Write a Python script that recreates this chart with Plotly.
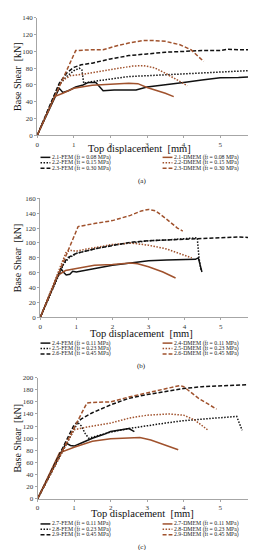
import plotly.graph_objects as go

W, H = 256, 550
BLACK = "#111111"
BROWN = "#a0522d"
SERIF = "Liberation Serif, Times New Roman, serif"

# ---------------- data ----------------
# panel (a)
fem21_x = [0, 0.6, 0.7, 0.85, 1.05, 1.25, 1.4, 1.6, 1.8, 2.1, 2.5, 2.7, 3.0, 3.5, 4.0, 4.5, 5.0, 5.5, 6.0]
fem21_y = [0, 56, 51, 53, 57.5, 60, 63, 63, 53, 54, 54, 54, 57.5, 60, 63, 66, 68.5, 69, 70]
dmem21_x = [0, 0.47, 0.7, 1.0, 1.5, 2.0, 2.5, 2.75, 3.0, 3.5, 3.73]
dmem21_y = [0, 46, 50, 56, 59.5, 61, 62, 61.5, 57, 50, 46]
fem22_x = [0, 0.6, 0.8, 1.0, 1.15, 1.22, 1.27, 1.5, 2.0, 2.5, 3.0, 3.5, 4.0, 4.5, 5.0, 5.5, 5.75, 6.0]
fem22_y = [0, 60, 70, 77, 80, 78, 62, 64, 67, 70, 71, 72, 73.5, 74, 75, 76, 77, 70]
dmem22_x = [0, 0.65, 0.9, 1.3, 1.7, 2.2, 2.6, 2.9, 3.2, 3.5, 3.8, 4.1]
dmem22_y = [0, 64, 71, 73, 76, 80, 82.5, 83, 80.5, 74, 66, 59]
fem23_x = [0, 0.6, 0.8, 1.0, 1.2, 1.5, 2.0, 2.5, 3.0, 3.5, 4.0, 4.5, 5.0, 5.2, 5.5, 6.0]
fem23_y = [0, 62, 74, 81, 84, 86, 91, 95, 97, 99, 100, 101, 101, 102.5, 102, 102]
dmem23_x = [0, 1.05, 1.5, 1.8, 2.2, 2.5, 2.9, 3.2, 3.5, 3.9, 4.2, 4.55]
dmem23_y = [0, 101, 102, 102, 107, 110, 113, 113, 112, 108, 102, 88]

# panel (b)
fem24_x = [0, 0.57, 0.64, 0.72, 0.82, 0.9, 1.0, 1.2, 1.5, 2.0, 2.5, 3.0, 3.5, 4.0, 4.3, 4.38, 4.48]
fem24_y = [0, 66, 61, 57, 58, 62, 61, 63, 66, 70, 73, 76, 77, 78, 78, 80, 61]
dmem24_x = [0, 0.5, 0.7, 1.0, 1.5, 2.0, 2.5, 2.7, 3.0, 3.4, 3.75]
dmem24_y = [0, 57, 63, 66, 70, 71, 73, 72, 68, 61, 53]
fem25_x = [0, 0.65, 0.8, 1.0, 1.5, 2.0, 2.5, 3.0, 3.5, 4.0, 4.35, 4.4, 4.45]
fem25_y = [0, 72, 80, 86, 92, 97, 100, 103, 104, 106, 107, 80, 64]
dmem25_x = [0, 0.72, 0.85, 1.0, 1.3, 2.0, 2.5, 3.0, 3.5, 4.0, 4.2]
dmem25_y = [0, 88, 90, 89, 92, 98, 100, 97, 92, 84, 80]
fem26_x = [0, 0.6, 0.75, 1.0, 1.5, 2.0, 2.5, 3.0, 3.5, 4.0, 4.5, 5.0, 5.5, 6.0]
fem26_y = [0, 68, 80, 86, 92, 97, 101, 103, 104, 105, 106, 107, 108, 107]
dmem26_x = [0, 1.05, 1.5, 2.0, 2.5, 2.8, 3.0, 3.2, 3.5, 3.8, 3.95]
dmem26_y = [0, 122, 126, 130, 137, 143, 145, 143, 132, 120, 116]

# panel (c)
fem27_x = [0, 0.78, 0.9, 1.0, 1.2, 1.5, 1.8, 2.0, 2.3, 2.5, 2.65]
fem27_y = [0, 92, 88, 87, 92, 100, 106, 111, 114, 116, 111]
dmem27_x = [0, 0.6, 1.0, 1.5, 2.0, 2.5, 2.8, 3.1, 3.5, 3.85]
dmem27_y = [0, 76, 85, 95, 99, 101, 101, 97, 88, 81]
fem28_x = [0, 1.1, 1.2, 1.3, 1.4, 1.7, 2.0, 2.5, 3.0, 3.5, 4.0, 4.5, 5.0, 5.45, 5.6]
fem28_y = [0, 126, 120, 108, 100, 105, 110, 116, 121, 125, 129, 131, 133, 136, 113]
dmem28_x = [0, 1.0, 1.4, 2.0, 2.5, 3.0, 3.6, 4.0, 4.3, 4.65]
dmem28_y = [0, 114, 119, 125, 133, 138, 140, 138, 130, 114]
fem29_x = [0, 0.9, 1.0, 1.2, 1.5, 2.0, 2.5, 3.0, 3.5, 4.0, 4.5, 5.0, 5.5, 6.0]
fem29_y = [0, 112, 122, 132, 142, 155, 166, 172, 177, 182, 185, 186, 188, 189]
dmem29_x = [0, 1.35, 1.5, 2.0, 2.5, 3.0, 3.5, 3.9, 4.0, 4.4, 4.9]
dmem29_y = [0, 158, 159, 160, 168, 175, 182, 187, 185, 166, 148]

labels_a = ["2.1-FEM (ft = 0.08 MPa)", "2.1-DMEM (ft = 0.08 MPa)",
            "2.2-FEM (ft = 0.15 MPa)", "2.2-DMEM (ft = 0.15 MPa)",
            "2.3-FEM (ft = 0.30 MPa)", "2.3-DMEM (ft = 0.30 MPa)"]
labels_b = ["2.4-FEM (ft = 0.11 MPa)", "2.4-DMEM (ft = 0.11 MPa)",
            "2.5-FEM (ft = 0.23 MPa)", "2.5-DMEM (ft = 0.23 MPa)",
            "2.6-FEM (ft = 0.45 MPa)", "2.6-DMEM (ft = 0.45 MPa)"]
labels_c = ["2.7-FEM (ft = 0.11 MPa)", "2.7-DMEM (ft = 0.11 MPa)",
            "2.8-FEM (ft = 0.23 MPa)", "2.8-DMEM (ft = 0.23 MPa)",
            "2.9-FEM (ft = 0.45 MPa)", "2.9-DMEM (ft = 0.45 MPa)"]
captions = ["(a)", "(b)", "(c)"]
x_title = "Top displacement  [mm]"
y_title = "Base Shear  [kN]"
y_max = [140, 160, 200]

series = [
    [(fem21_x, fem21_y), (dmem21_x, dmem21_y), (fem22_x, fem22_y), (dmem22_x, dmem22_y), (fem23_x, fem23_y), (dmem23_x, dmem23_y)],
    [(fem24_x, fem24_y), (dmem24_x, dmem24_y), (fem25_x, fem25_y), (dmem25_x, dmem25_y), (fem26_x, fem26_y), (dmem26_x, dmem26_y)],
    [(fem27_x, fem27_y), (dmem27_x, dmem27_y), (fem28_x, fem28_y), (dmem28_x, dmem28_y), (fem29_x, fem29_y), (dmem29_x, dmem29_y)],
]
all_labels = [labels_a, labels_b, labels_c]

# ---------------- layout geometry (pixels) ----------------
panels = [
    dict(x0=27.7, x1=250.7, yt=6, yb=125, tx=132, ty=138.5, rows=[147.5, 153, 158.5], cap=172),
    dict(x0=30.7, x1=250.7, yt=189, yb=310, tx=134, ty=326, rows=[336, 341.5, 347], cap=359),
    dict(x0=28.0, x1=250.7, yt=371, yb=494, tx=135, ty=509, rows=[519.5, 525, 530.5], cap=543),
]
styles = [
    dict(color=BLACK, dash="solid"), dict(color=BROWN, dash="solid"),
    dict(color=BLACK, dash="1.5px,1.5px"), dict(color=BROWN, dash="1.5px,1.5px"),
    dict(color=BLACK, dash="4px,2px"), dict(color=BROWN, dash="4px,2px"),
]

def px(x):
    return x / W

def py(y):
    return 1 - y / H

fig = go.Figure()
annotations = []
shapes = []
layout = {}

for i, p in enumerate(panels):
    sfx = "" if i == 0 else str(i + 1)
    xa, ya = "x" + sfx, "y" + sfx
    for j, (xs, ys) in enumerate(series[i]):
        st = styles[j]
        fig.add_trace(go.Scatter(x=xs, y=ys, mode="lines", xaxis=xa, yaxis=ya,
                                 name=all_labels[i][j], showlegend=False,
                                 line=dict(color=st["color"], dash=st["dash"], width=1.5)))
    axis_common = dict(showgrid=False, zeroline=False, showline=True, linecolor="#a6a6a6",
                       linewidth=1, ticks="outside", ticklen=2, tickcolor="#a6a6a6",
                       tickfont=dict(family=SERIF, size=7, color="#333333"))
    layout["xaxis" + sfx] = dict(domain=[px(p["x0"]), px(p["x1"])], anchor=ya,
                                 range=[0, 6], dtick=1, tick0=0, **axis_common)
    layout["yaxis" + sfx] = dict(domain=[py(p["yb"]), py(p["yt"])], anchor=xa,
                                 range=[0, y_max[i]], dtick=20, tick0=0, **axis_common)
    # axis titles
    annotations.append(dict(text=x_title, x=px(p["tx"]), y=py(p["ty"]), xref="paper", yref="paper",
                            showarrow=False, xanchor="center", yanchor="middle", borderpad=0,
                            font=dict(family=SERIF, size=10.5, color="#111111")))
    annotations.append(dict(text=y_title, x=px(7.5), y=py((p["yt"] + p["yb"]) / 2), xref="paper", yref="paper",
                            showarrow=False, xanchor="center", yanchor="middle", textangle=-90, borderpad=0,
                            font=dict(family=SERIF, size=10, color="#111111")))
    annotations.append(dict(text=captions[i], x=px(134), y=py(p["cap"]), xref="paper", yref="paper",
                            showarrow=False, xanchor="center", yanchor="middle", borderpad=0,
                            font=dict(family=SERIF, size=7, color="#111111")))
    # custom compact legend
    for j, lab in enumerate(all_labels[i]):
        row = j // 2
        col = j % 2
        lx0 = 31 if col == 0 else 155
        yy = p["rows"][row]
        st = styles[j]
        shapes.append(dict(type="line", xref="paper", yref="paper",
                           x0=px(lx0), x1=px(lx0 + 10), y0=py(yy), y1=py(yy),
                           line=dict(color=st["color"], dash=st["dash"], width=1.5)))
        annotations.append(dict(text=lab, x=px(lx0 + 10.5), y=py(yy), xref="paper", yref="paper",
                                showarrow=False, xanchor="left", yanchor="middle", borderpad=0,
                                font=dict(family=SERIF, size=5.8, color="#222222")))

fig.update_layout(width=W, height=H, margin=dict(l=0, r=0, t=0, b=0),
                  paper_bgcolor="white", plot_bgcolor="white",
                  showlegend=False, annotations=annotations, shapes=shapes, **layout)

fig.write_html("out.html")
